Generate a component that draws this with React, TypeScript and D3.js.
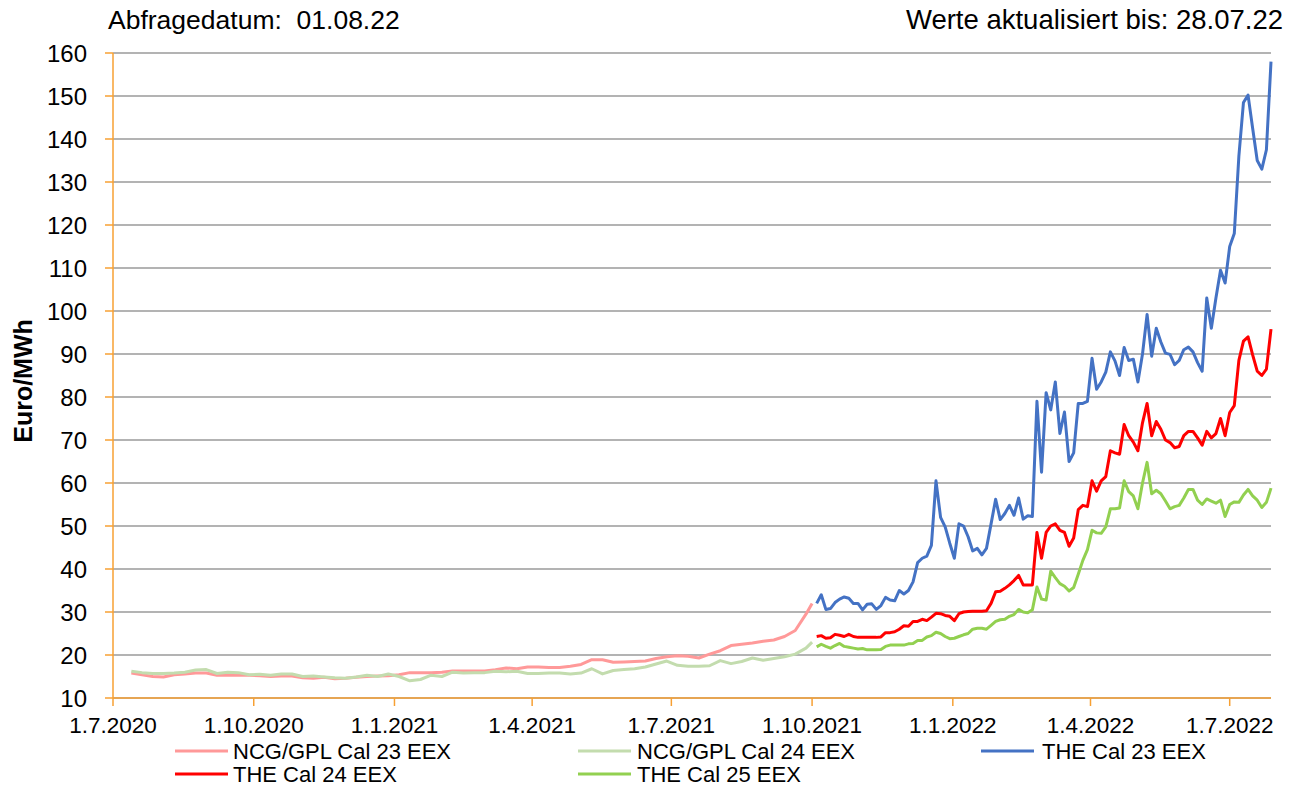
import React from "react";
import * as d3 from "d3";

// ---- data ----
const ncgDates = [
  "2020-07-13","2020-07-20","2020-07-27","2020-08-03","2020-08-10","2020-08-17","2020-08-24","2020-08-31",
  "2020-09-07","2020-09-14","2020-09-21","2020-09-28","2020-10-05","2020-10-12","2020-10-19","2020-10-26",
  "2020-11-02","2020-11-09","2020-11-16","2020-11-23","2020-11-30","2020-12-07","2020-12-14","2020-12-21",
  "2020-12-28","2021-01-04","2021-01-11","2021-01-18","2021-01-25","2021-02-01","2021-02-08","2021-02-15",
  "2021-02-22","2021-03-01","2021-03-08","2021-03-15","2021-03-22","2021-03-29","2021-04-05","2021-04-12",
  "2021-04-19","2021-04-26","2021-05-03","2021-05-10","2021-05-17","2021-05-24","2021-05-31","2021-06-07",
  "2021-06-14","2021-06-21","2021-06-28","2021-07-05","2021-07-12","2021-07-19","2021-07-26","2021-08-02",
  "2021-08-09","2021-08-16","2021-08-23","2021-08-30","2021-09-06","2021-09-13","2021-09-20","2021-09-27",
  "2021-10-01",
];
const ncgCal23 = [
  15.8,15.4,15.0,14.9,15.4,15.6,15.8,15.8,15.3,15.3,15.3,15.3,15.2,15.0,15.1,15.1,
  14.7,14.6,14.8,14.5,14.6,14.8,15.0,15.1,15.2,15.4,15.9,15.9,15.9,16.0,16.3,16.3,
  16.3,16.3,16.6,17.0,16.8,17.2,17.2,17.1,17.1,17.4,17.8,18.9,18.9,18.3,18.4,18.5,
  18.6,19.2,19.6,19.8,19.7,19.3,20.2,21.0,22.2,22.5,22.8,23.2,23.5,24.3,25.7,29.5,
  32.0,
];
const ncgCal24 = [
  16.2,15.9,15.7,15.7,15.8,16.0,16.5,16.6,15.7,16.0,15.9,15.4,15.5,15.3,15.6,15.6,
  15.0,15.1,14.9,14.7,14.6,14.9,15.3,15.0,15.6,15.0,14.0,14.3,15.3,15.0,16.0,15.8,
  15.9,15.9,16.2,16.1,16.2,15.7,15.7,15.8,15.8,15.6,15.8,16.8,15.6,16.4,16.6,16.8,
  17.2,17.9,18.6,17.6,17.4,17.4,17.5,18.7,18.0,18.5,19.3,18.8,19.2,19.6,20.2,21.6,
  23.0,
];

const theDates = [
  "2021-10-04","2021-10-07","2021-10-10","2021-10-13","2021-10-16","2021-10-19","2021-10-22","2021-10-25","2021-10-28","2021-10-31",
  "2021-11-03","2021-11-06","2021-11-09","2021-11-12","2021-11-15","2021-11-18","2021-11-21","2021-11-24","2021-11-27","2021-11-30",
  "2021-12-03","2021-12-06","2021-12-09","2021-12-12","2021-12-15","2021-12-18","2021-12-21","2021-12-24","2021-12-27","2021-12-30",
  "2022-01-02","2022-01-05","2022-01-08","2022-01-11","2022-01-14","2022-01-17","2022-01-20","2022-01-23","2022-01-26","2022-01-29",
  "2022-02-01","2022-02-04","2022-02-07","2022-02-10","2022-02-13","2022-02-16","2022-02-19","2022-02-22","2022-02-25","2022-02-28",
  "2022-03-03","2022-03-06","2022-03-09","2022-03-12","2022-03-15","2022-03-18","2022-03-21","2022-03-24","2022-03-27","2022-03-30",
  "2022-04-02","2022-04-05","2022-04-08","2022-04-11","2022-04-14","2022-04-17","2022-04-20","2022-04-23","2022-04-26","2022-04-29",
  "2022-05-02","2022-05-05","2022-05-08","2022-05-11","2022-05-14","2022-05-17","2022-05-20","2022-05-23","2022-05-26","2022-05-29",
  "2022-06-01","2022-06-04","2022-06-07","2022-06-10","2022-06-13","2022-06-16","2022-06-19","2022-06-22","2022-06-25","2022-06-28",
  "2022-07-01","2022-07-04","2022-07-07","2022-07-10","2022-07-13","2022-07-16","2022-07-19","2022-07-22","2022-07-25","2022-07-28",
];
const theCal23 = [
  32.0,34.0,30.6,30.8,32.2,33.0,33.5,33.2,32.0,32.0,
  30.5,31.8,31.9,30.6,31.5,33.4,32.8,32.6,35.0,34.2,
  35.0,37.0,41.5,42.5,43.0,45.5,60.5,52.0,49.8,46.0,
  42.5,50.5,50.0,47.5,44.2,44.8,43.3,44.8,50.5,56.2,
  51.5,52.9,54.8,52.5,56.5,51.6,52.4,52.2,79.0,62.5,
  81.0,77.0,83.5,71.5,76.5,65.0,67.0,78.5,78.5,79.0,
  89.0,81.8,83.5,85.8,90.5,88.4,85.0,91.5,88.5,88.8,
  83.5,90.0,99.2,89.5,96.0,92.8,90.2,89.9,87.5,88.5,
  91.0,91.6,90.5,88.0,86.0,103.0,96.0,103.0,109.5,106.5,
  115.0,118.0,136.0,148.5,150.2,142.5,135.0,133.0,137.5,158.0,
];
const theCal24 = [
  24.3,24.5,23.9,24.0,24.8,24.6,24.3,24.8,24.3,24.1,
  24.1,24.1,24.1,24.1,24.2,25.2,25.2,25.4,26.0,26.8,
  26.7,27.8,27.8,28.3,28.0,28.8,29.7,29.6,29.2,29.0,
  28.0,29.6,30.0,30.1,30.2,30.2,30.2,30.3,32.0,34.7,
  34.8,35.5,36.3,37.3,38.5,36.3,36.3,36.3,48.5,42.5,
  48.5,50.0,50.5,49.0,48.5,45.3,47.2,53.8,54.8,54.5,
  60.5,58.1,60.5,61.5,67.5,67.0,66.7,73.6,71.0,69.5,
  67.5,74.0,78.5,71.0,74.3,72.5,70.0,69.4,68.2,68.5,
  71.0,72.0,72.0,70.5,68.8,72.0,70.5,71.5,75.0,71.0,
  76.4,78.0,88.5,93.0,94.0,89.8,86.0,85.0,86.5,95.8,
];
const theCal25 = [
  21.9,22.5,22.0,21.6,22.2,22.7,22.0,21.8,21.6,21.4,
  21.5,21.2,21.2,21.2,21.3,22.0,22.3,22.3,22.3,22.3,
  22.6,22.7,23.4,23.4,24.2,24.5,25.3,25.0,24.3,23.8,
  23.9,24.3,24.7,25.0,26.0,26.2,26.2,26.0,26.9,27.8,
  28.2,28.3,29.0,29.4,30.6,30.0,29.8,30.5,35.8,33.0,
  32.8,39.5,38.0,36.6,36.0,34.9,35.7,38.8,42.0,44.5,
  49.0,48.4,48.3,49.8,54.0,54.0,54.2,60.5,58.0,57.0,
  54.0,60.0,64.8,57.5,58.3,57.5,55.8,54.0,54.5,54.8,
  56.5,58.5,58.5,56.0,55.0,56.3,55.8,55.3,56.0,52.2,
  55.0,55.6,55.5,57.2,58.5,57.0,56.0,54.3,55.5,58.8,
];

const xTickDates = ["2020-07-01","2020-10-01","2021-01-01","2021-04-01","2021-07-01","2021-10-01","2022-01-01","2022-04-01","2022-07-01"];
const yTicks = [10,20,30,40,50,60,70,80,90,100,110,120,130,140,150,160];
const xDomain = ["2020-07-01","2022-07-28"];
const yDomain = [10, 160];

const seriesNames = ["NCG/GPL Cal 23 EEX","NCG/GPL Cal 24 EEX","THE Cal 23 EEX","THE Cal 24 EEX","THE Cal 25 EEX"];
const seriesColors = ["#FF9999","#C3DCAE","#4472C4","#FF0000","#92D050"];

const headerLeft = "Abfragedatum:  01.08.22";
const headerRight = "Werte aktualisiert bis: 28.07.22";
const yTitle = "Euro/MWh";

// ---- layout ----
const W = 1293, H = 787;
const L = 113, R = 1271, T = 53, B = 698;
const FONT = "Arial, 'Liberation Sans', sans-serif";
const AXIS = "#F7A033";
const GRID = "#9A9A9A";

const parse = d3.timeParse("%Y-%m-%d");
const fmt = (d: Date) => `${d.getDate()}.${d.getMonth() + 1}.${d.getFullYear()}`;

export default function App() {
  const x = d3.scaleTime().domain(xDomain.map((s) => parse(s)!)).range([L, R]);
  const y = d3.scaleLinear().domain(yDomain).range([B, T]);
  const line = d3.line<[Date, number]>().x((d) => x(d[0])).y((d) => y(d[1]));

  const series: { dates: string[]; vals: number[] }[] = [
    { dates: ncgDates, vals: ncgCal23 },
    { dates: ncgDates, vals: ncgCal24 },
    { dates: theDates, vals: theCal23 },
    { dates: theDates, vals: theCal24 },
    { dates: theDates, vals: theCal25 },
  ];

  const legendPos = [
    { lx: 175, ly: 751, tx: 233, ty: 759 },
    { lx: 578, ly: 751, tx: 637, ty: 759 },
    { lx: 981, ly: 751, tx: 1042, ty: 759 },
    { lx: 175, ly: 774, tx: 233, ty: 782 },
    { lx: 578, ly: 774, tx: 637, ty: 782 },
  ];

  return (
    <svg width={W} height={H} style={{ position: "absolute", left: 0, top: 0, background: "#fff" }} fontFamily={FONT}>
      {/* gridlines */}
      {yTicks.map((t) => (
        <line key={"g" + t} x1={L} x2={R} y1={y(t)} y2={y(t)} stroke={GRID} strokeWidth={1.5} />
      ))}
      {/* y axis */}
      <line x1={L} x2={L} y1={T} y2={B} stroke={AXIS} strokeWidth={1.5} />
      {yTicks.map((t) => (
        <g key={"yt" + t}>
          <line x1={L - 8} x2={L} y1={y(t)} y2={y(t)} stroke={AXIS} strokeWidth={1.5} />
          <text x={87} y={y(t) + 8.5} fontSize={24} textAnchor="end" fill="#000">{t}</text>
        </g>
      ))}
      {/* x axis */}
      <line x1={L} x2={R} y1={B} y2={B} stroke={AXIS} strokeWidth={1.5} />
      {xTickDates.map((s) => {
        const d = parse(s)!;
        return (
          <g key={"xt" + s}>
            <line x1={x(d)} x2={x(d)} y1={B} y2={B + 8} stroke={AXIS} strokeWidth={1.5} />
            <text x={x(d)} y={733} fontSize={22.5} textAnchor="middle" fill="#000">{fmt(d)}</text>
          </g>
        );
      })}
      {/* series */}
      {series.map((s, i) => (
        <path
          key={"s" + i}
          d={line(s.dates.map((dd, j) => [parse(dd)!, s.vals[j]] as [Date, number])) || ""}
          fill="none"
          stroke={seriesColors[i]}
          strokeWidth={3}
          strokeLinejoin="round"
        />
      ))}
      {/* header */}
      <text x={108} y={29} fontSize={26.5} fill="#000" style={{ whiteSpace: "pre" }}>{headerLeft}</text>
      <text x={1283} y={29} fontSize={27.5} fill="#000" textAnchor="end" style={{ whiteSpace: "pre" }}>{headerRight}</text>
      {/* y title */}
      <text transform="translate(32,381) rotate(-90)" fontSize={25} fontWeight="bold" textAnchor="middle" fill="#000">{yTitle}</text>
      {/* legend */}
      {seriesNames.map((n, i) => {
        const p = legendPos[i];
        return (
          <g key={"lg" + i}>
            <line x1={p.lx} x2={p.lx + 53} y1={p.ly} y2={p.ly} stroke={seriesColors[i]} strokeWidth={3} />
            <text x={p.tx} y={p.ty} fontSize={22} fill="#000">{n}</text>
          </g>
        );
      })}
    </svg>
  );
}
